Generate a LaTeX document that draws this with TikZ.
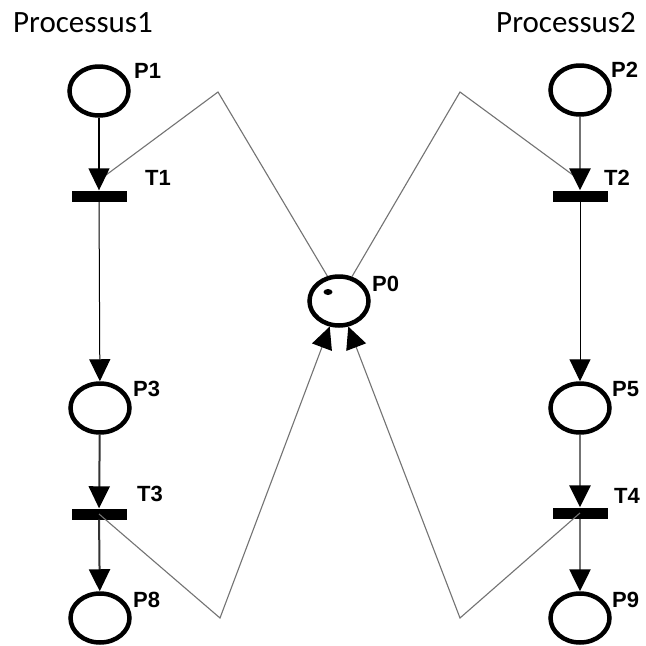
\documentclass[tikz,border=0pt]{standalone}
\usepackage{fontspec}
\setmainfont{Liberation Sans}
\newfontfamily\calib{Carlito}
\usetikzlibrary{shapes.geometric,arrows.meta}
\begin{document}
\begin{tikzpicture}[x=1pt,y=-1pt,
  place/.style={draw=black,line width=4.5pt,ellipse,minimum width=59pt,minimum height=49pt,inner sep=0pt},
  trans/.style={fill=black,draw=none,rectangle,minimum width=55pt,minimum height=11pt,inner sep=0pt},
  lab/.style={font=\fontsize{22}{22}\selectfont\bfseries,anchor=base west,inner sep=0pt},
  title/.style={font=\calib\fontsize{31}{31}\selectfont,inner sep=0pt},
  tip/.style={-{Triangle[length=22pt 0 0,width=21pt 0,color=black]}},
  arcblack/.style={draw=black,line width=1.4pt},
  arcthin/.style={draw=black,line width=1pt},
  arcgray/.style={draw=black!55,line width=2.6pt},
  arcdark/.style={draw=black!80,line width=2pt},
  diag/.style={draw=black!55,line width=1.1pt,line join=miter}]
\useasboundingbox (0,0) rectangle (646,646);
\fill[white] (0,0) rectangle (646,646);

% titles
\node[title,anchor=base west] (tp1) at (13,32) {Processus1};
\node[title,anchor=base east] (tp2) at (636,32) {Processus2};

% places
\node[place] (P1) at (99,91) {};
\node[place] (P2) at (580,90) {};
\node[place] (P3) at (100,408) {};
\node[place] (P5) at (580,408) {};
\node[place] (P8) at (100,618) {};
\node[place] (P9) at (580,618) {};
\node[place] (P0) at (339,301) {};
\fill[black] (328,292) ellipse (4.5pt and 3pt);

% transitions
\node[trans] (T1) at (99,196) {};
\node[trans] (T2) at (580,196) {};
\node[trans] (T3) at (99,514) {};
\node[trans] (T4) at (580,513) {};

% labels
\node[lab] (lP1) at (134,78) {P1};
\node[lab] (lT1) at (145,185) {T1};
\node[lab] (lP2) at (611,77) {P2};
\node[lab] (lT2) at (604,185) {T2};
\node[lab] (lP3) at (133,396) {P3};
\node[lab] (lT3) at (137,501) {T3};
\node[lab] (lP8) at (133,607) {P8};
\node[lab] (lP5) at (612,396) {P5};
\node[lab] (lT4) at (614,503) {T4};
\node[lab] (lP9) at (612,607) {P9};
\node[lab] (lP0) at (372,291) {P0};

% bends
\coordinate (b1) at (218,92);
\coordinate (b2) at (460,92);
\coordinate (b3) at (220,618);
\coordinate (b4) at (460,618);
\coordinate (t1in) at (102,178);
\coordinate (t2in) at (577,178);

% mutex arcs
\draw[diag] (P0.115) -- (b1) -- (t1in);
\draw[diag] (P0.62) -- (b2) -- (t2in);
\draw[diag,tip] (T3.center) -- (b3) -- (P0.250);
\draw[diag,tip] (T4.center) -- (b4) -- (P0.290);

% process 1
\draw[arcblack,tip] (P1) -- (T1);
\draw[arcthin,tip] (T1) -- (P3);
\draw[arcdark,tip] (P3) -- (T3);
\draw[arcdark,tip] (T3) -- (P8);

% process 2
\draw[arcgray,tip] (P2) -- (T2);
\draw[arcthin,tip] (T2) -- (P5);
\draw[arcgray,tip] (P5) -- (T4);
\draw[arcgray,tip] (T4) -- (P9);
\end{tikzpicture}
\end{document}
